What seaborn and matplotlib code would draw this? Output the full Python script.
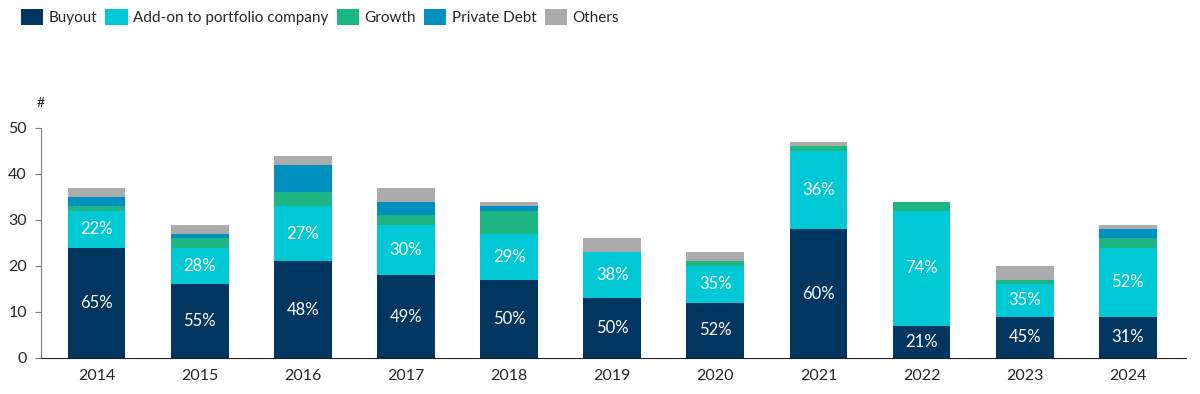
import matplotlib
matplotlib.use('Agg')
import matplotlib.pyplot as plt
import seaborn as sns
import numpy as np
from matplotlib.patches import Patch

# Data
years = ['2014', '2015', '2016', '2017', '2018', '2019', '2020', '2021', '2022', '2023', '2024']
buyout = [24, 16, 21, 18, 17, 13, 12, 28, 7, 9, 9]
addon = [8, 8, 12, 11, 10, 10, 8, 17, 25, 7, 15]
growth = [1, 2, 3, 2, 5, 0, 1, 1, 2, 1, 2]
private_debt = [2, 1, 6, 3, 1, 0, 0, 0, 0, 0, 2]
others = [2, 2, 2, 3, 1, 3, 2, 1, 0, 3, 1]

series_names = ['Buyout', 'Add-on to portfolio company', 'Growth', 'Private Debt', 'Others']
colors = ['#003660', '#00C8D4', '#1DB682', '#0090C0', '#ABABAB']


def plot_chart():
    sns.set_style('white')
    plt.rcParams['font.family'] = ['Lato', 'DejaVu Sans']

    fig = plt.figure(figsize=(12, 3.94), dpi=100)
    ax = fig.add_axes([0.034, 0.0914, 0.954, 0.584])

    values = [buyout, addon, growth, private_debt, others]
    totals = np.sum(values, axis=0)
    bottom = np.zeros(len(years))
    for name, vals, col in zip(series_names, values, colors):
        ax.bar(years, vals, bottom=bottom, width=0.56, color=col, edgecolor='none')
        bottom = bottom + np.array(vals)

    # percentage labels for Buyout and Add-on
    base = np.zeros(len(years))
    for vals in [buyout, addon]:
        for i, v in enumerate(vals):
            pct = round(100 * v / totals[i])
            ax.text(i, base[i] + v / 2, f'{pct}%', ha='center', va='center',
                    color='white', fontsize=12)
        base = base + np.array(vals)

    ax.set_ylim(0, 50)
    ax.set_xlim(-0.54, 10.56)
    ax.set_yticks([0, 10, 20, 30, 40, 50])
    ax.tick_params(axis='y', length=4, color='#7F7F7F', labelsize=11.5, pad=6, left=True)
    ax.tick_params(axis='x', length=0, labelsize=11.5, pad=8)
    sns.despine(ax=ax, top=True, right=True)
    ax.spines['left'].set_color('#7F7F7F')
    ax.spines['bottom'].set_color('#222222')
    ax.text(0.0, 1.08, '#', transform=ax.transAxes, ha='center', va='bottom', fontsize=10)

    handles = [Patch(facecolor=c, edgecolor='none') for c in colors]
    fig.legend(handles, series_names, loc='upper left', bbox_to_anchor=(0.006, 1.012),
               ncol=5, frameon=False, fontsize=11, handlelength=1.45, handleheight=1.2,
               handletextpad=0.35, columnspacing=0.55)

    fig.savefig('out.png', dpi=100)


if __name__ == '__main__':
    plot_chart()
